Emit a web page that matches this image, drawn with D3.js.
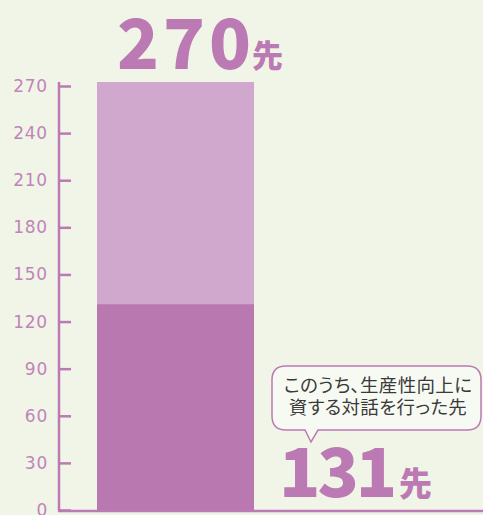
<!DOCTYPE html>
<html>
<head>
<meta charset="utf-8">
<script src="https://cdn.jsdelivr.net/npm/d3@7"></script>
<style>
  body { margin: 0; background: #f0f5e7; }
  svg { display: block; }
</style>
</head>
<body>
<div id="chart-area"></div>
<script>
// data
var categories = ["total"];
var totalValues = [270];
var subsetValues = [131];
var tickValues = [0, 30, 60, 90, 120, 150, 180, 210, 240, 270];
var unitLabel = "先";
var calloutLines = ["このうち、生産性向上に", "資する対話を行った先"];

var width = 483, height = 515;
var purple = "#bb7ab3";

var svg = d3.select("#chart-area").append("svg")
    .attr("width", width)
    .attr("height", height);

svg.append("rect").attr("width", width).attr("height", height).attr("fill", "#f0f5e7");

var y = d3.scaleLinear().domain([0, 270]).range([510, 86]);
var x = d3.scaleBand().domain(categories).range([97, 254]).padding(0);

// bars
svg.selectAll("rect.total")
    .data(totalValues)
    .enter().append("rect")
    .attr("class", "total")
    .attr("x", (d, i) => x(categories[i]))
    .attr("width", x.bandwidth())
    .attr("y", d => y(d) - 4)
    .attr("height", d => y(0) - y(d) + 4)
    .attr("fill", "#d0a7cd");

svg.selectAll("rect.subset")
    .data(subsetValues)
    .enter().append("rect")
    .attr("class", "subset")
    .attr("x", (d, i) => x(categories[i]))
    .attr("width", x.bandwidth())
    .attr("y", d => y(d))
    .attr("height", d => y(0) - y(d))
    .attr("fill", "#b978b0");

// y axis
var leftAxis = d3.axisRight(y).tickValues(tickValues).tickSize(12).tickFormat("");
var axisG = svg.append("g")
    .attr("transform", "translate(59,0)")
    .call(leftAxis);
axisG.select(".domain").remove();
axisG.selectAll(".tick line").attr("stroke", purple).attr("stroke-width", 2.5);
axisG.append("line")
    .attr("x1", 0).attr("x2", 0)
    .attr("y1", 82).attr("y2", 511)
    .attr("stroke", purple).attr("stroke-width", 2.5);

svg.selectAll("text.tick-label")
    .data(tickValues)
    .enter().append("text")
    .attr("class", "tick-label")
    .attr("x", 48)
    .attr("y", d => y(d) + 6)
    .attr("text-anchor", "end")
    .attr("font-family", "DejaVu Sans, sans-serif")
    .attr("font-size", "17px")
    .attr("letter-spacing", "0.8px")
    .attr("fill", "#c283bb")
    .text(d => d);

// baseline
svg.append("line")
    .attr("x1", 58).attr("x2", width)
    .attr("y1", 511).attr("y2", 511)
    .attr("stroke", purple).attr("stroke-width", 2.5);

// big total label
svg.append("text")
    .attr("x", 117)
    .attr("y", 69)
    .attr("font-family", "Noto Sans CJK JP, sans-serif")
    .attr("font-weight", 900)
    .attr("font-size", "69px")
    .attr("letter-spacing", "4px")
    .attr("fill", purple)
    .text(totalValues[0]);
svg.append("text")
    .attr("x", 252)
    .attr("y", 67)
    .attr("font-family", "Noto Sans CJK JP, sans-serif")
    .attr("font-weight", 900)
    .attr("font-size", "31px")
    .attr("fill", purple)
    .text(unitLabel);

// callout bubble
var bx0 = 272, bx1 = 481, by0 = 366, by1 = 430, r = 14;
var p = d3.path();
p.moveTo(bx0 + r, by0);
p.lineTo(bx1 - r, by0);
p.quadraticCurveTo(bx1, by0, bx1, by0 + r);
p.lineTo(bx1, by1 - r);
p.quadraticCurveTo(bx1, by1, bx1 - r, by1);
p.lineTo(318, by1);
p.lineTo(311, 442);
p.lineTo(305, by1);
p.lineTo(bx0 + r, by1);
p.quadraticCurveTo(bx0, by1, bx0, by1 - r);
p.lineTo(bx0, by0 + r);
p.quadraticCurveTo(bx0, by0, bx0 + r, by0);
p.closePath();
svg.append("path")
    .attr("d", p.toString())
    .attr("fill", "#f7faf2")
    .attr("stroke", purple)
    .attr("stroke-width", 1.5);

svg.selectAll("text.callout")
    .data(calloutLines)
    .enter().append("text")
    .attr("class", "callout")
    .attr("x", 378)
    .attr("y", (d, i) => 392 + i * 22)
    .attr("text-anchor", "middle")
    .attr("font-family", "Noto Sans CJK JP, sans-serif")
    .attr("font-size", "18.5px")
    .attr("letter-spacing", "0.3px")
    .style("font-feature-settings", "'palt'")
    .attr("fill", "#3a3a3a")
    .text(d => d);

// big subset label
svg.append("text")
    .attr("x", 279)
    .attr("y", 497)
    .attr("font-family", "Noto Sans CJK JP, sans-serif")
    .attr("font-weight", 900)
    .attr("font-size", "68px")
    .attr("letter-spacing", "-3px")
    .attr("fill", purple)
    .text(subsetValues[0]);
svg.append("text")
    .attr("x", 399)
    .attr("y", 496)
    .attr("font-family", "Noto Sans CJK JP, sans-serif")
    .attr("font-weight", 900)
    .attr("font-size", "33px")
    .attr("fill", purple)
    .text(unitLabel);
</script>
</body>
</html>
